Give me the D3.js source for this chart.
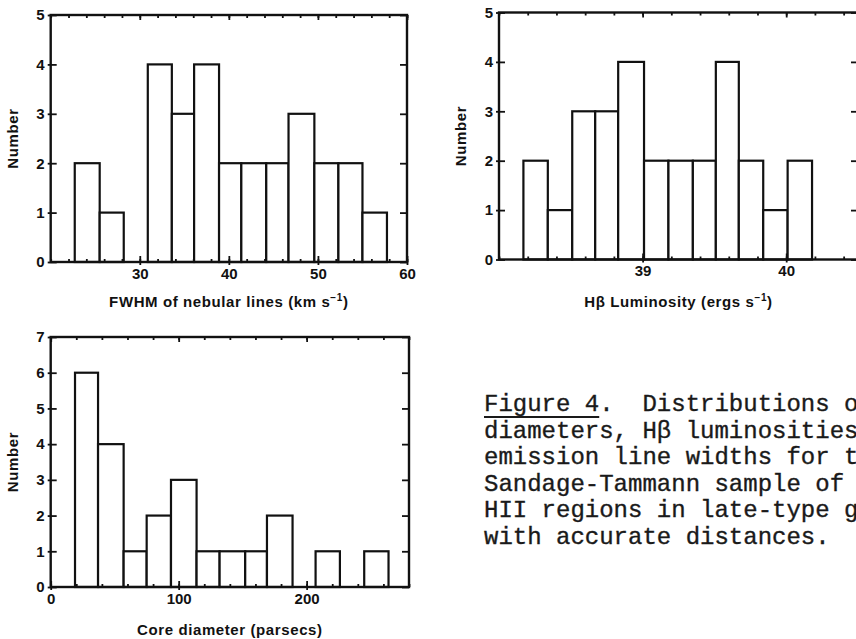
<!DOCTYPE html>
<html>
<head>
<meta charset="utf-8">
<script src="https://cdn.jsdelivr.net/npm/d3@7"></script>
<style>
    body { margin: 0; background: #fff; }
    svg { display: block; overflow: hidden; }
    .tick text { font-family: "Liberation Sans", Arial, sans-serif; font-weight: bold; font-size: 15px; fill: #111; }
    .tick line { stroke: #111; stroke-width: 1.8; }
    .axis-title { font-family: "Liberation Sans", Arial, sans-serif; font-weight: bold; font-size: 15px; letter-spacing: 0.6px; fill: #111; }
    .bar { fill: #fff; stroke: #111; stroke-width: 2.2; }
    .frame { fill: none; stroke: #111; stroke-width: 2.4; }
    .caption { font-family: "Liberation Mono", "Courier New", monospace; font-size: 24px; fill: #1a1a1a; stroke: #1a1a1a; stroke-width: 0.35; }
</style>
</head>
<body>
<svg id="fig" width="856" height="639"></svg>
<script>
// FWHM of nebular lines (km s^-1)
const fwhmEdges = [22.7, 25.5, 28.2, 30.9, 33.6, 36.1, 38.9, 41.4, 44.2, 46.7, 49.6, 52.3, 55.0, 57.75]
const fwhmCounts = [2, 1, 0, 4, 3, 4, 2, 2, 2, 3, 2, 2, 1]
const fwhmTicks = [30, 40, 50, 60]

// H-beta luminosity (log ergs s^-1)
const lumEdges = [38.17, 38.34, 38.51, 38.67, 38.83, 39.01, 39.18, 39.35, 39.51, 39.67, 39.84, 40.01, 40.18]
const lumCounts = [2, 1, 3, 3, 4, 2, 2, 2, 4, 2, 1, 2]
const lumTicks = [39, 40]

// core diameter (parsecs)
const coreEdges = [19, 37, 57, 75, 94, 114, 132, 152, 169, 189, 207, 226, 245, 264]
const coreCounts = [6, 4, 1, 2, 3, 1, 1, 1, 2, 0, 1, 0, 1]
const coreTicks = [0, 100, 200]

const countTicks5 = [0, 1, 2, 3, 4, 5]
const countTicks7 = [0, 1, 2, 3, 4, 5, 6, 7]

// caption, as far as it is visible on the page
const captionLines = [
    'Figure 4.  Distributions o',
    'diameters, H\u03b2 luminosities',
    'emission line widths for t',
    'Sandage-Tammann sample of',
    'HII regions in late-type g',
    'with accurate distances.'
]

class Histogram {

    constructor(defaultConfig, _edges, _counts) {
        this.config = {
            parentElement: defaultConfig.parentElement,
            left: defaultConfig.left,
            top: defaultConfig.top,
            width: defaultConfig.width,
            height: defaultConfig.height,
            xDomain: defaultConfig.xDomain,
            yMax: defaultConfig.yMax,
            xTicks: defaultConfig.xTicks,
            yTicks: defaultConfig.yTicks,
            minorStep: defaultConfig.minorStep,
            xTitle: defaultConfig.xTitle,
            titleOffset: defaultConfig.titleOffset || 45,
        }
        this.edges = _edges
        this.counts = _counts
        this.initVis()
    }

    initVis() {
        let vis = this
        let c = vis.config

        vis.xScale = d3.scaleLinear()
            .domain(c.xDomain)
            .range([0, c.width])

        vis.yScale = d3.scaleLinear()
            .domain([0, c.yMax])
            .range([c.height, 0])

        vis.chart = d3.select(c.parentElement).append('g')
            .attr('transform', `translate(${c.left},${c.top})`)

        vis.barsG = vis.chart.append('g')
        vis.axesG = vis.chart.append('g')

        // titles
        let xt = vis.chart.append('text')
            .attr('class', 'axis-title')
            .attr('x', c.width / 2)
            .attr('y', c.height + c.titleOffset)
            .style('text-anchor', 'middle')
        xt.append('tspan').text(c.xTitle[0])
        xt.append('tspan').attr('dy', -6).style('font-size', '10px').text(c.xTitle[1])
        xt.append('tspan').attr('dy', 6).text(c.xTitle[2])

        vis.chart.append('text')
            .attr('class', 'axis-title')
            .attr('transform', `translate(-33,${c.height / 2}) rotate(-90)`)
            .style('text-anchor', 'middle')
            .text('Number')
    }

    updateVis() {
        let vis = this
        vis.bins = vis.counts
            .map((n, i) => ({x0: vis.edges[i], x1: vis.edges[i + 1], n: n}))
            .filter(d => d.n > 0)
        vis.minors = d3.range(vis.config.xDomain[0], vis.config.xDomain[1] + 1e-9, vis.config.minorStep)
        vis.renderVis()
    }

    renderVis() {
        let vis = this
        let c = vis.config
        let noDomain = g => g.select('.domain').remove()

        vis.barsG.selectAll('.bar')
            .data(vis.bins)
            .join('rect')
            .attr('class', 'bar')
            .attr('x', d => vis.xScale(d.x0))
            .attr('width', d => vis.xScale(d.x1) - vis.xScale(d.x0))
            .attr('y', d => vis.yScale(d.n))
            .attr('height', d => vis.yScale(0) - vis.yScale(d.n))

        // bottom: labelled ticks poking out, plus inward majors and minors
        vis.axesG.append('g')
            .attr('transform', `translate(0,${c.height})`)
            .call(d3.axisBottom(vis.xScale).tickValues(c.xTicks).tickSize(3).tickPadding(3).tickFormat(d3.format('d')))
            .call(noDomain)
        vis.axesG.append('g')
            .attr('transform', `translate(0,${c.height})`)
            .call(d3.axisBottom(vis.xScale).tickValues(c.xTicks).tickSize(-6).tickFormat(''))
            .call(noDomain)
        vis.axesG.append('g')
            .attr('transform', `translate(0,${c.height})`)
            .call(d3.axisBottom(vis.xScale).tickValues(vis.minors).tickSize(-3).tickFormat(''))
            .call(noDomain)

        // top
        vis.axesG.append('g')
            .call(d3.axisTop(vis.xScale).tickValues(c.xTicks).tickSize(-5).tickFormat(''))
            .call(noDomain)
        vis.axesG.append('g')
            .call(d3.axisTop(vis.xScale).tickValues(vis.minors).tickSize(-3).tickFormat(''))
            .call(noDomain)

        // left
        vis.axesG.append('g')
            .call(d3.axisLeft(vis.yScale).tickValues(c.yTicks).tickSize(3).tickPadding(3).tickFormat(d3.format('d')))
            .call(noDomain)
        vis.axesG.append('g')
            .call(d3.axisLeft(vis.yScale).tickValues(c.yTicks).tickSize(-6).tickFormat(''))
            .call(noDomain)

        // right
        vis.axesG.append('g')
            .attr('transform', `translate(${c.width},0)`)
            .call(d3.axisRight(vis.yScale).tickValues(c.yTicks).tickSize(-7).tickFormat(''))
            .call(noDomain)

        vis.axesG.append('rect')
            .attr('class', 'frame')
            .attr('width', c.width)
            .attr('height', c.height)
    }
}

let fwhmHist = new Histogram({
    parentElement: '#fig', left: 50.7, top: 15, width: 356.3, height: 247,
    xDomain: [20, 60], yMax: 5, xTicks: fwhmTicks, yTicks: countTicks5, minorStep: 2,
    xTitle: ['FWHM of nebular lines (km s', '\u22121', ')'], titleOffset: 45,
}, fwhmEdges, fwhmCounts)
fwhmHist.updateVis()

let lumHist = new Histogram({
    parentElement: '#fig', left: 499, top: 12.5, width: 359, height: 247,
    xDomain: [38, 40.5], yMax: 5, xTicks: lumTicks, yTicks: countTicks5, minorStep: 0.2,
    xTitle: ['H\u03b2 Luminosity (ergs s', '\u22121', ')'], titleOffset: 47,
}, lumEdges, lumCounts)
lumHist.updateVis()

let coreHist = new Histogram({
    parentElement: '#fig', left: 50.7, top: 337, width: 358.3, height: 250,
    xDomain: [0, 280], yMax: 7, xTicks: coreTicks, yTicks: countTicks7, minorStep: 20,
    xTitle: ['Core diameter (parsecs)', '', ''], titleOffset: 48,
}, coreEdges, coreCounts)
coreHist.updateVis()

// caption
let cap = d3.select('#fig').append('text')
    .attr('class', 'caption')
    .attr('x', 484)
    .attr('y', 411)
cap.selectAll('tspan')
    .data(captionLines)
    .join('tspan')
    .attr('x', 484)
    .attr('dy', (d, i) => i === 0 ? 0 : 26.6)
    .attr('xml:space', 'preserve')
    .style('white-space', 'pre')
    .text(d => d)

let firstLine = cap.select('tspan').node()
let ulWidth = firstLine.getSubStringLength(0, 8)
d3.select('#fig').append('line')
    .attr('x1', 484)
    .attr('x2', 484 + ulWidth)
    .attr('y1', 417)
    .attr('y2', 417)
    .attr('stroke', '#1a1a1a')
    .attr('stroke-width', 1.8)
</script>
</body>
</html>
